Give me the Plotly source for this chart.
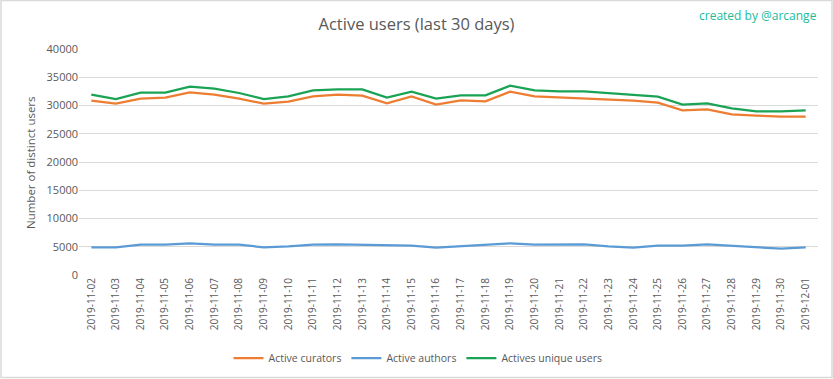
import plotly.graph_objects as go

dates = ["2019-11-02", "2019-11-03", "2019-11-04", "2019-11-05", "2019-11-06",
         "2019-11-07", "2019-11-08", "2019-11-09", "2019-11-10", "2019-11-11",
         "2019-11-12", "2019-11-13", "2019-11-14", "2019-11-15", "2019-11-16",
         "2019-11-17", "2019-11-18", "2019-11-19", "2019-11-20", "2019-11-21",
         "2019-11-22", "2019-11-23", "2019-11-24", "2019-11-25", "2019-11-26",
         "2019-11-27", "2019-11-28", "2019-11-29", "2019-11-30", "2019-12-01"]

curators = [30850, 30330, 31210, 31390, 32330, 31920, 31210, 30330, 30680, 31620,
            31920, 31740, 30380, 31620, 30150, 30910, 30740, 32450, 31620, 31440,
            31270, 31030, 30850, 30500, 29150, 29320, 28440, 28200, 28020, 28020]

authors = [4900, 4900, 5370, 5370, 5600, 5370, 5370, 4900, 5070, 5370,
           5430, 5370, 5190, 5190, 4840, 5070, 5370, 5600, 5370, 5370,
           5430, 5070, 4840, 5190, 5190, 5430, 5190, 4840, 4660, 4900]

unique_users = [31920, 31150, 32270, 32270, 33330, 32980, 32210, 31150, 31620, 32680,
                32860, 32860, 31390, 32450, 31210, 31800, 31800, 33510, 32680, 32500,
                32500, 32150, 31800, 31560, 30150, 30380, 29500, 28970, 28970, 29150]

y_ticks = [0, 5000, 10000, 15000, 20000, 25000, 30000, 35000, 40000]

FONT = "Open Sans"
GREY = "#595959"

W, H = 833, 379
L, R, T, B = 79, 15, 49, 104
PW, PH = W - L - R, H - T - B


def px_x(p):
    return (p - L) / PW


def px_y(p):
    return (H - B - p) / PH


fig = go.Figure()
fig.add_trace(go.Scatter(x=dates, y=curators, mode="lines", name="Active curators",
                         line=dict(color="#ED7D31", width=2.25)))
fig.add_trace(go.Scatter(x=dates, y=authors, mode="lines", name="Active authors",
                         line=dict(color="#5B9BD5", width=2.25)))
fig.add_trace(go.Scatter(x=dates, y=unique_users, mode="lines", name="Actives unique users",
                         line=dict(color="#1AA354", width=2.25)))

fig.update_layout(
    width=W, height=H,
    margin=dict(l=L, r=R, t=T, b=B, autoexpand=False),
    paper_bgcolor="white", plot_bgcolor="white",
    font=dict(family=FONT, color=GREY, size=11),
    title=dict(text="Active users (last 30 days)", x=0.5, xanchor="center",
               y=1 - 24.5 / H, yanchor="middle",
               font=dict(family=FONT, size=16.5, color=GREY)),
    showlegend=True,
    legend=dict(orientation="h", x=px_x(418), xanchor="center", y=px_y(358), yanchor="middle",
                font=dict(family=FONT, size=10.5, color=GREY),
                itemwidth=30, traceorder="normal"),
    xaxis=dict(type="category", tickangle=-90, showgrid=False, zeroline=False,
               showline=False, ticks="", tickfont=dict(size=10, color=GREY),
               automargin=False, range=[-0.5, len(dates) - 0.5]),
    yaxis=dict(range=[0, 40000], tickvals=y_ticks, ticktext=[str(v) for v in y_ticks],
               showgrid=True, gridcolor="#D9D9D9", gridwidth=1, zeroline=False,
               showline=False, ticks="", tickfont=dict(size=11, color=GREY),
               automargin=False),
)

fig.add_annotation(text="Number of distinct users", xref="paper", yref="paper",
                   x=px_x(30), y=px_y(162), xanchor="center", yanchor="middle",
                   textangle=-90, showarrow=False,
                   font=dict(family=FONT, size=11.5, color=GREY))

fig.add_annotation(text="created by @arcange", xref="paper", yref="paper",
                   x=px_x(819), y=px_y(15), xanchor="right", yanchor="middle",
                   showarrow=False,
                   font=dict(family=FONT, size=12, color="#1ABC9C"))

# outer border of the chart
fig.add_shape(type="rect", xref="paper", yref="paper",
              x0=px_x(1), x1=px_x(W - 1), y0=px_y(H - 1.5), y1=px_y(0.5),
              line=dict(color="#D9D9D9", width=1.5), layer="below")

fig.write_html("out.html", config={"displayModeBar": False},
               post_script="document.body.style.margin='0';document.body.style.padding='0';")
